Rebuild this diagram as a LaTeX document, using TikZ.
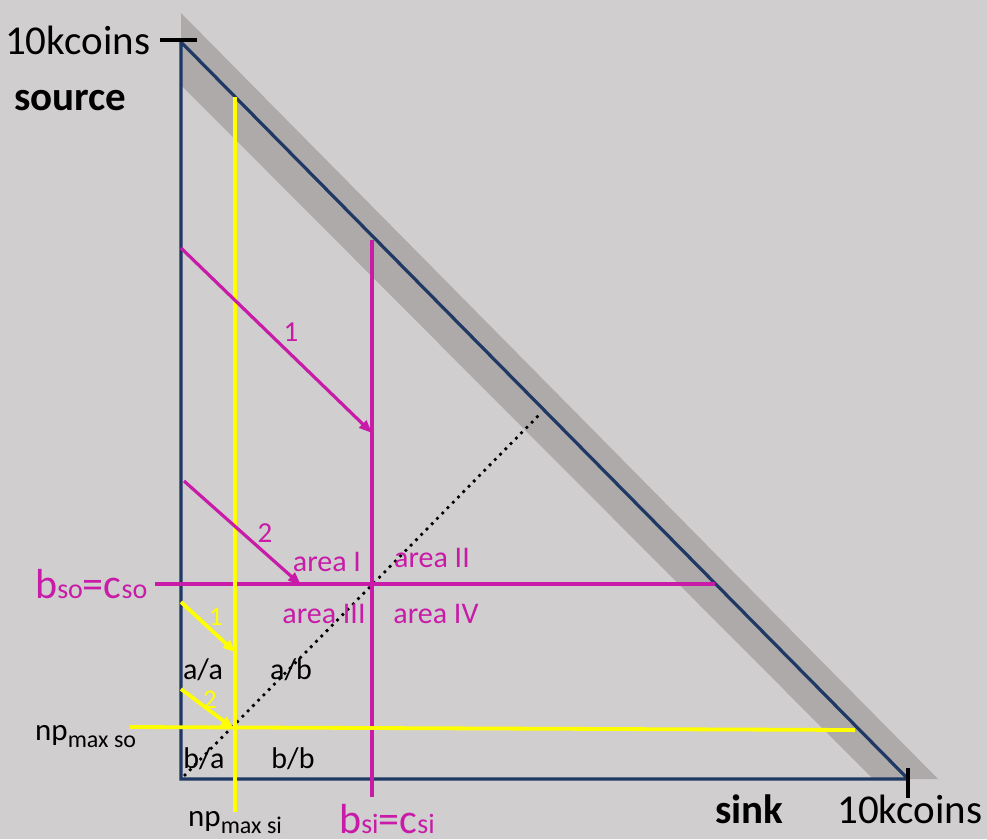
\documentclass[tikz,border=0pt]{standalone}
\usepackage{fontspec}
\setmainfont{Carlito}
\usetikzlibrary{arrows.meta}
\definecolor{bg}{HTML}{D0CECE}
\definecolor{bandc}{HTML}{AEAAAA}
\definecolor{navy}{HTML}{1F3864}
\definecolor{mag}{HTML}{C71BA8}
\definecolor{yel}{HTML}{FFFF00}
\newcommand{\smallsub}[1]{{\fontsize{28}{28}\selectfont #1}}
\newcommand{\npsub}[1]{\raisebox{-7pt}{\fontsize{24}{24}\selectfont #1}}
\begin{document}
\begin{tikzpicture}[x=1pt,y=-1pt,
  axisline/.style={draw=navy,line width=3.2pt},
  magline/.style={draw=mag,line width=3.2pt},
  yelline/.style={draw=yel,line width=3.8pt},
  magarrow/.style={magline,-{Triangle[length=13pt,width=10pt]}},
  yelarrow/.style={yelline,-{Triangle[length=12pt,width=10pt]}},
  tickline/.style={draw=black,line width=3.2pt},
  bigtxt/.style={inner sep=0,anchor=base west,font=\fontsize{41}{41}\selectfont},
  boldtxt/.style={inner sep=0,anchor=base west,font=\fontsize{41}{41}\selectfont\bfseries},
  areatxt/.style={inner sep=0,text=mag,font=\fontsize{30}{30}\selectfont},
  celltxt/.style={inner sep=0,text=black,font=\fontsize{30}{30}\selectfont},
  numtxt/.style={inner sep=0,font=\fontsize{29}{29}\selectfont},
  symtxt/.style={inner sep=0,anchor=base west,text=mag,font=\fontsize{42}{42}\selectfont},
  nptxt/.style={inner sep=0,anchor=base west,text=black,font=\fontsize{31}{31}\selectfont}
]
% background
\fill[bg] (0,0) rectangle (987,839);
\useasboundingbox (0,0) rectangle (987,839);
% shadow band
\fill[bandc] (181,13) -- (938,779) -- (873,779) -- (181,85) -- cycle;
% key coordinates
\coordinate (top) at (181,42);
\coordinate (origin) at (181,779);
\coordinate (right) at (908,779);
% triangle
\draw[axisline] (right) -- (origin) -- (top) -- (right);
% ticks
\coordinate (tkl) at (160,40); \coordinate (tkr) at (197,40);
\draw[tickline] (tkl) -- (tkr);
\coordinate (tkt) at (908,768); \coordinate (tkb) at (908,798);
\draw[tickline] (tkt) -- (tkb);
% dotted diagonal
\coordinate (d0) at (185,775); \coordinate (d1) at (541,413);
\draw[black,line width=3.8pt,line cap=round,dash pattern=on 0pt off 7.5pt] (d0) -- (d1);
% magenta lines
\coordinate (mv0) at (372,240); \coordinate (mv1) at (372,797);
\draw[magline] (mv0) -- (mv1);
\coordinate (mh0) at (155,584); \coordinate (mh1) at (715,584);
\draw[magline] (mh0) -- (mh1);
% yellow lines
\coordinate (yv0) at (235,97); \coordinate (yv1) at (235,812);
\draw[yelline] (yv0) -- (yv1);
\coordinate (yh0) at (130,727); \coordinate (yh1) at (855,730);
\draw[yelline] (yh0) -- (yh1);
% magenta arrows
\coordinate (ma1s) at (181,248); \coordinate (ma1e) at (372,433);
\draw[magarrow] (ma1s) -- (ma1e);
\coordinate (ma2s) at (184,481); \coordinate (ma2e) at (301,585);
\draw[magarrow] (ma2s) -- (ma2e);
% yellow arrows
\coordinate (ya1s) at (181,602); \coordinate (ya1e) at (235,652);
\draw[yelarrow] (ya1s) -- (ya1e);
\coordinate (ya2s) at (181,689); \coordinate (ya2e) at (233,728);
\draw[yelarrow] (ya2s) -- (ya2e);
% arrow labels
\node[numtxt,text=mag] (m1) at (291,332) {1};
\node[numtxt,text=mag] (m2) at (265,533) {2};
\node[numtxt,text=yel,font=\fontsize{27}{27}\selectfont] (y1) at (216,617) {1};
\node[numtxt,text=yel,font=\fontsize{27}{27}\selectfont] (y2) at (210,700) {2};
% area labels
\node[areatxt] (a1) at (327,562) {area I};
\node[areatxt] (a2) at (432,558) {area II};
\node[areatxt] (a3) at (324,614) {area III};
\node[areatxt] (a4) at (436,614) {area IV};
% cell labels
\node[celltxt] (aa) at (203,670) {a/a};
\node[celltxt] (ab) at (291,670) {a/b};
\node[celltxt] (ba) at (204,759) {b/a};
\node[celltxt] (bb) at (293,759) {b/b};
% axis texts
\node[bigtxt] (tl) at (5,54) {10kcoins};
\node[boldtxt] (src) at (14,110) {source};
\node[boldtxt] (snk) at (715,823) {sink};
\node[bigtxt] (br) at (837,823) {10kcoins};
\node[symtxt] (bso) at (35,598) {b\smallsub{so}=c\smallsub{so}};
\node[symtxt] (bsi) at (339,833) {b\smallsub{si}=c\smallsub{si}};
\node[nptxt] (npso) at (35,740) {np\npsub{max so}};
\node[nptxt] (npsi) at (188,826) {np\npsub{max si}};
\end{tikzpicture}
\end{document}
